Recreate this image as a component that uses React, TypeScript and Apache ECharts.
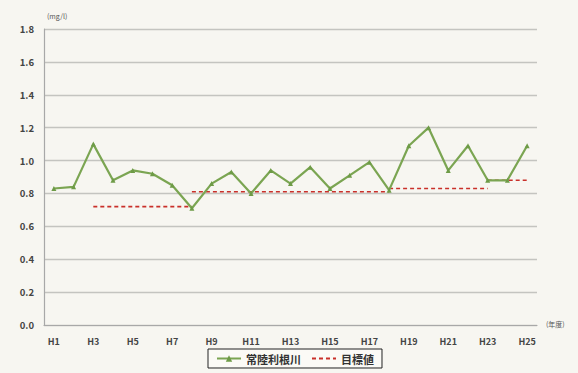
import React, { useEffect, useRef } from "react";
import * as echarts from "echarts";

// Fiscal years (Heisei)
const years = [
  "H1", "H2", "H3", "H4", "H5", "H6", "H7", "H8", "H9", "H10", "H11", "H12", "H13",
  "H14", "H15", "H16", "H17", "H18", "H19", "H20", "H21", "H22", "H23", "H24", "H25",
];

// Measured values, 常陸利根川 (mg/l)
const measured = [
  0.83, 0.84, 1.1, 0.88, 0.94, 0.92, 0.85, 0.71, 0.86, 0.93, 0.8, 0.94, 0.86,
  0.96, 0.83, 0.91, 0.99, 0.82, 1.09, 1.2, 0.94, 1.09, 0.88, 0.88, 1.09,
];

// Target value periods
const targetStart = ["H3", "H8", "H18", "H23"];
const targetEnd = ["H8", "H18", "H23", "H25"];
const targetValue = [0.72, 0.81, 0.83, 0.88];

const yTicks = [0, 0.2, 0.4, 0.6, 0.8, 1.0, 1.2, 1.4, 1.6, 1.8];

const FONT = "'Noto Sans CJK JP', 'Noto Sans', sans-serif";

export default function App() {
  const ref = useRef<HTMLDivElement>(null);

  useEffect(() => {
    document.body.style.margin = "0";
    if (!ref.current) return;
    const chart = echarts.init(ref.current, undefined, { renderer: "svg" });

    const targetSeries = targetValue.map((v, i) => ({
      name: "目標値",
      type: "line",
      data: [
        [targetStart[i], v],
        [targetEnd[i], v],
      ],
      symbol: "none",
      lineStyle: { color: "#c9302a", width: 1.6, type: [4, 3] },
      itemStyle: { color: "#c9302a" },
      z: 3,
    }));

    chart.setOption({
      animation: false,
      backgroundColor: "#f7f6f1",
      textStyle: { fontFamily: FONT },
      grid: { left: 44, right: 41, top: 29, bottom: 48 },
      legend: {
        left: 208,
        top: 349,
        width: 175,
        padding: [4, 8, 4, 8],
        itemGap: 10,
        itemWidth: 24,
        itemHeight: 8,
        borderColor: "#222",
        borderWidth: 1,
        backgroundColor: "#fbfaf6",
        data: [
          { name: "常陸利根川" },
          { name: "目標値", itemStyle: { opacity: 0 } },
        ],
        textStyle: { fontFamily: FONT, fontSize: 11, fontWeight: "bold", color: "#333" },
      },
      graphic: [
        {
          type: "text",
          left: 47,
          top: 12,
          style: { text: "(mg/l)", fontSize: 7, fill: "#555", fontFamily: FONT },
        },
        {
          type: "text",
          left: 546,
          top: 320,
          style: { text: "(年度)", fontSize: 7, fill: "#555", fontFamily: FONT },
        },
      ],
      xAxis: {
        type: "category",
        data: years,
        boundaryGap: true,
        axisLine: { lineStyle: { color: "#a8a8a8", width: 1.2 } },
        axisTick: { inside: true, length: 3, interval: 0, lineStyle: { color: "#a8a8a8" } },
        axisLabel: {
          interval: 1,
          color: "#444",
          fontSize: 9,
          fontWeight: "bold",
          margin: 12,
          fontFamily: FONT,
        },
      },
      yAxis: {
        type: "value",
        min: yTicks[0],
        max: yTicks[yTicks.length - 1],
        interval: 0.2,
        axisLine: { show: true, lineStyle: { color: "#a8a8a8", width: 1.2 } },
        axisTick: { show: false },
        axisLabel: {
          color: "#444",
          fontSize: 9.5,
          fontWeight: "bold",
          margin: 10,
          fontFamily: FONT,
          formatter: (v: number) => v.toFixed(1),
        },
        splitLine: { lineStyle: { color: "#c4c4c0", width: 1.3 } },
      },
      series: [
        {
          name: "常陸利根川",
          type: "line",
          data: measured,
          symbol: "triangle",
          symbolSize: 5,
          lineStyle: { color: "#7ba552", width: 2.2 },
          itemStyle: { color: "#6e9b47" },
          z: 4,
        },
        ...targetSeries,
      ],
    });

    return () => chart.dispose();
  }, []);

  return <div ref={ref} style={{ width: 578, height: 373 }} />;
}
